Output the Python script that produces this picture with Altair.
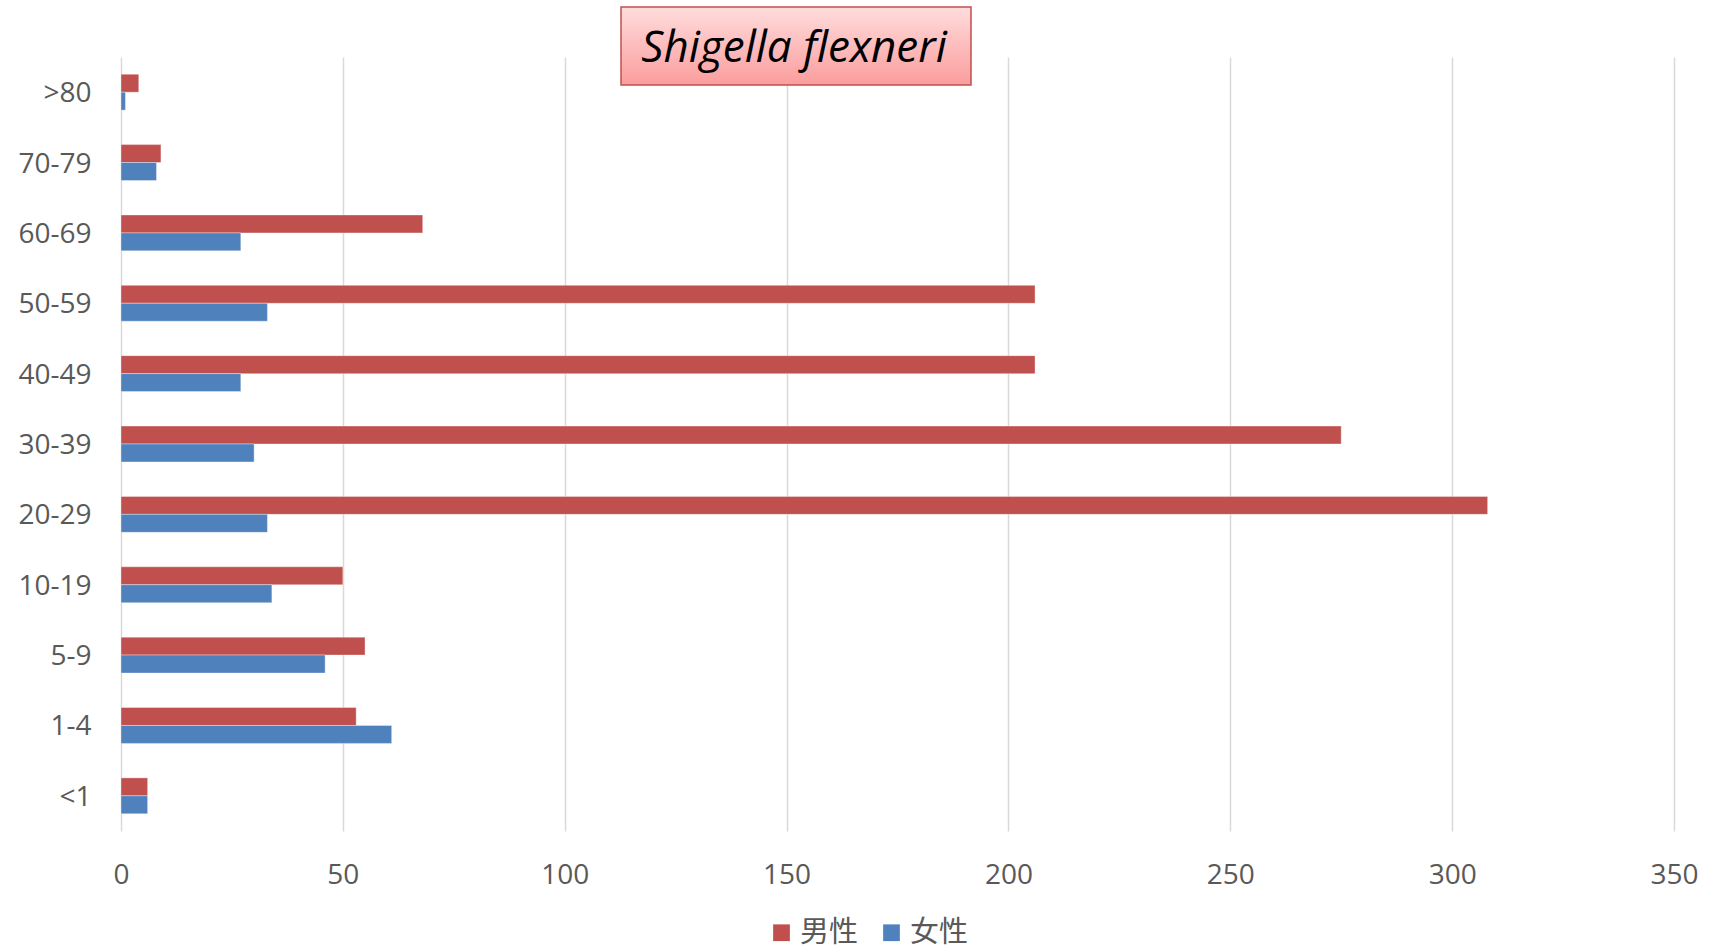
import altair as alt
import pandas as pd

TITLE = "Shigella flexneri"
AGE_GROUPS = [">80", "70-79", "60-69", "50-59", "40-49", "30-39", "20-29", "10-19", "5-9", "1-4", "<1"]
MALE = [4, 9, 68, 206, 206, 275, 308, 50, 55, 53, 6]
FEMALE = [1, 8, 27, 33, 27, 30, 33, 34, 46, 61, 6]
SERIES = ["男性", "女性"]
COLORS = ["#c0504d", "#4f81bd"]
X_TICKS = [0, 50, 100, 150, 200, 250, 300, 350]

rows = []
for g, m, f in zip(AGE_GROUPS, MALE, FEMALE):
    rows.append({"age": g, "sex": SERIES[0], "count": m})
    rows.append({"age": g, "sex": SERIES[1], "count": f})
df = pd.DataFrame(rows)

W, H = 1553, 774

bars = alt.Chart(df).mark_bar(stroke="white", strokeWidth=0.6, strokeOpacity=0.6).encode(
    x=alt.X("count:Q",
            scale=alt.Scale(domain=[0, 350], nice=False, zero=True),
            axis=alt.Axis(values=X_TICKS, title=None, domain=False, ticks=False,
                          grid=True, gridColor="#d9d9d9", gridWidth=1.5,
                          labelFont="Open Sans", labelFontSize=28, labelColor="#595959",
                          labelPadding=30, labelFlush=False)),
    y=alt.Y("age:N", sort=AGE_GROUPS,
            scale=alt.Scale(paddingInner=0.49, paddingOuter=0.245),
            axis=alt.Axis(title=None, domain=False, ticks=False, grid=False,
                          labelFont="Open Sans", labelFontSize=28, labelColor="#595959",
                          labelPadding=30, labelOffset=2)),
    yOffset=alt.YOffset("sex:N", sort=SERIES, scale=alt.Scale(paddingInner=0, paddingOuter=0)),
    color=alt.Color("sex:N",
                    scale=alt.Scale(domain=SERIES, range=COLORS),
                    legend=alt.Legend(title=None, orient="none", direction="horizontal",
                                      legendX=646, legendY=861,
                                      symbolType="square", symbolSize=280,
                                      symbolStrokeWidth=0, symbolOpacity=1,
                                      labelFont="Noto Sans CJK SC", labelFontSize=29,
                                      labelColor="#595959", columnPadding=18,
                                      labelOffset=4)),
)

box_df = pd.DataFrame({"t": [TITLE]})
box = alt.Chart(box_df).mark_rect(
    fill=alt.Gradient(gradient="linear",
                      stops=[alt.GradientStop(color="#ffdcdc", offset=0),
                             alt.GradientStop(color="#fb9d9d", offset=1)],
                      x1=0, y1=0, x2=0, y2=1),
    stroke="#c0504d", strokeWidth=1.5,
).encode(x=alt.value(500), x2=alt.value(850), y=alt.value(-50), y2=alt.value(28))

title_text = alt.Chart(box_df).mark_text(
    font="Open Sans", fontStyle="italic", fontSize=44, color="#000000",
    align="center", baseline="middle",
).encode(x=alt.value(673), y=alt.value(-8), text="t:N")

chart = alt.layer(bars, box, title_text).properties(
    width=W, height=H,
    autosize=alt.AutoSizeParams(type="none"),
    padding={"left": 121, "top": 57, "right": 37, "bottom": 120},
).configure(background="white").configure_view(stroke=None)

chart.save("out.html", embed_options={"renderer": "svg", "actions": False})
